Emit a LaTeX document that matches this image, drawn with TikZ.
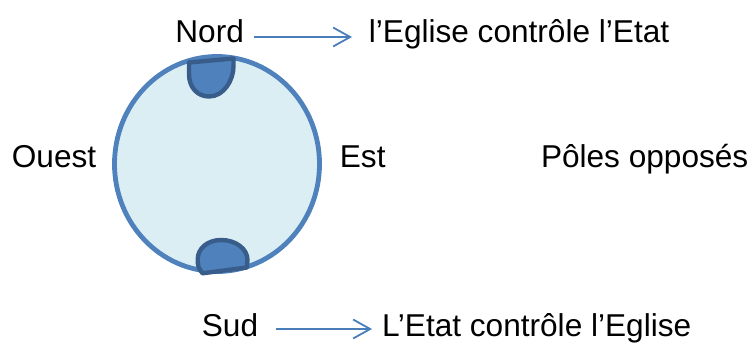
\documentclass[tikz,border=0pt]{standalone}
\usepackage{fontspec}
\setmainfont{Liberation Sans}
\usetikzlibrary{arrows.meta}
\definecolor{fondbleu}{HTML}{DBEEF4}
\definecolor{bordbleu}{HTML}{4F81BD}
\definecolor{capbleu}{HTML}{4F81BD}
\definecolor{capbord}{HTML}{385D8A}
\definecolor{flechebleu}{HTML}{4A7EBB}
\tikzset{
  texte/.style={anchor=base west, inner sep=0pt, font=\fontsize{15.8}{19}\selectfont},
  globe/.style={fill=fondbleu, draw=bordbleu, line width=2.4pt},
  calotte/.style={fill=capbleu, draw=capbord, line width=2.2pt, line join=round},
  lien/.style={draw=flechebleu, line width=0.9pt, -{Straight Barb[length=8.5pt,width=9.5pt]}}
}
\begin{document}
\begin{tikzpicture}[x=0.5pt, y=-0.5pt]
    \useasboundingbox (0,0) rectangle (755,343);

    % Le globe
    \draw[globe] (217,164) ellipse [x radius=102.5, y radius=107.5];

    % Calotte nord
    \draw[calotte] (189,62.5) -- (189,74) .. controls (189,88) and (198,96.5) .. (209,96.5)
        .. controls (224,96.5) and (233.5,80) .. (233.5,66) -- (233.5,58.5) -- cycle;

    % Calotte sud
    \draw[calotte] (202.5,273.3) .. controls (198,268) and (197.5,264) .. (197.7,259)
        .. controls (198,248) and (208,240) .. (221,240)
        .. controls (236,240) and (247.5,249) .. (247.5,260) -- (246.8,267.5) -- cycle;

    % Points cardinaux
    \node[texte] (nord) at (175,42) {Nord};
    \node[texte] (ouest) at (11.5,167) {Ouest};
    \node[texte] (est) at (339.5,167) {Est};
    \node[texte] (sud) at (201.5,336) {Sud};

    % Textes de droite
    \node[texte] (eglise) at (368.5,42) {l’Eglise contrôle l’Etat};
    \node[texte] (poles) at (540.6,167) {Pôles opposés};
    \node[texte] (etat) at (381.7,336) {L’Etat contrôle l’Eglise};

    % Flèches
    \draw[lien, shorten <=4.75pt, shorten >=8.25pt]
        ([yshift=2.5pt]nord.base east) -- ([yshift=2.5pt]eglise.base west);
    \draw[lien, shorten <=8.65pt, shorten >=4.85pt]
        ([yshift=3.5pt]sud.base east) -- ([yshift=3.5pt]etat.base west);
\end{tikzpicture}
\end{document}
